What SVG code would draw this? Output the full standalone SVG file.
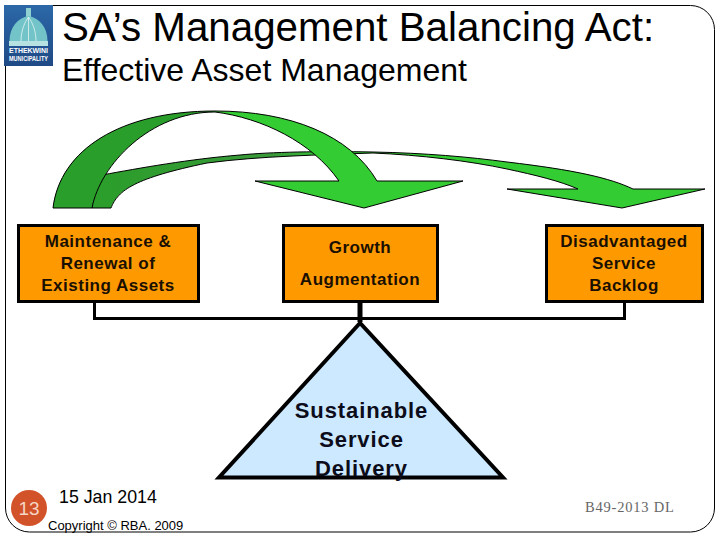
<svg xmlns="http://www.w3.org/2000/svg" width="720" height="540" viewBox="0 0 720 540">
<style>
text{font-family:"Liberation Sans",Arial,sans-serif;fill:#000}
.box{fill:#ff9900;stroke:#000;stroke-width:3}
.lbl{font-size:17px;font-weight:bold;text-anchor:middle;fill:#1a1000;letter-spacing:0.5px}
.sus{font-size:22px;font-weight:bold;text-anchor:middle;fill:#0c0c1a;letter-spacing:0.9px}
.arrow{stroke:#000;stroke-width:1;stroke-linejoin:miter}
.beam{fill:none;stroke:#000;stroke-width:3}
.logo-t{font-size:6.500px;font-weight:bold;fill:#fff}
</style>
<defs>
<linearGradient id="a1" gradientUnits="userSpaceOnUse" x1="53" y1="0" x2="463" y2="0"><stop offset="0.39" stop-color="#2a9e2a"/><stop offset="0.39" stop-color="#33cc33"/></linearGradient>
<linearGradient id="a2" gradientUnits="userSpaceOnUse" x1="92" y1="0" x2="705" y2="0"><stop offset="0" stop-color="#2a9e2a"/><stop offset="0.3" stop-color="#3a9a3a"/><stop offset="0.4" stop-color="#33cc33"/></linearGradient>
<linearGradient id="lg" x1="0" y1="0" x2="0" y2="1"><stop offset="0" stop-color="#2c68a8"/><stop offset="1" stop-color="#1f4a86"/></linearGradient>
</defs>
<rect id="frame" x="5.5" y="5.500" width="709" height="526.500" rx="24" fill="#fff" stroke="#000" stroke-width="1"/>
<g id="logo">
<rect x="4" y="5" width="49" height="61" fill="url(#lg)"/>
<rect x="26" y="8" width="5" height="9" fill="#8fd0d0"/>
<path d="M9.500 41C9.500 27 18 18 28.500 16C39 18 47.500 27 47.500 41Z" fill="#72c4c8"/>
<path d="M21 41C21 30 25 22 28.500 17M36 41C36 30 32 22 28.500 17M28.500 17V41" fill="none" stroke="#e4f4f4" stroke-width="0.800"/>
<rect x="9" y="41" width="39" height="5" fill="#b8e2e2"/>
<text class="logo-t" x="28.500" y="53" text-anchor="middle" textLength="39" lengthAdjust="spacingAndGlyphs">ETHEKWINI</text>
<text class="logo-t" x="28.500" y="61" text-anchor="middle" textLength="39" lengthAdjust="spacingAndGlyphs">MUNICIPALITY</text>
</g>
<g id="title">
<text x="62" y="41" style="font-size:40.300px">SA’s Management Balancing Act:</text>
<text x="62" y="81" style="font-size:32px">Effective Asset Management</text>
</g>
<g id="connectors">
<path class="arrow" fill="url(#a2)" d="M92 208H111C118 190 135 178 207 163C260 156 320 155 373 153C420 155 470 161 507 169C535 175 560 181 578 189H507L622 208L705 189H633C610 178 575 170 507 162C470 157 425 153 373 152C320 151 270 152 240 155C190 159 140 168 102 175C96 185 92 197 92 208Z"/>
<path class="arrow" fill="url(#a1)" d="M53 208H92C100 165 150 112 215 112C262 118 312 142 339 181H255L364 208L463 181H377C350 135 290 111 215 111C120 111 60 150 53 208Z"/>
<path class="beam" d="M94.500 303V318.500H624.500V303"/>
<path d="M360 303V322" fill="none" stroke="#000" stroke-width="5"/>
</g>
<g id="node-maintenance">
<rect class="box" x="18.500" y="225.500" width="180" height="76"/>
<text class="lbl" x="108" y="247">Maintenance &amp;</text>
<text class="lbl" x="108" y="269">Renewal of</text>
<text class="lbl" x="108" y="291">Existing Assets</text>
</g>
<g id="node-growth">
<rect class="box" x="283.500" y="225.500" width="154" height="76"/>
<text class="lbl" x="360" y="253">Growth</text>
<text class="lbl" x="360" y="285">Augmentation</text>
</g>
<g id="node-backlog">
<rect class="box" x="546.500" y="225.500" width="156" height="76"/>
<text class="lbl" x="624" y="247">Disadvantaged</text>
<text class="lbl" x="624" y="269">Service</text>
<text class="lbl" x="624" y="291">Backlog</text>
</g>
<g id="node-delivery">
<path d="M360 323L219 477.500H503Z" fill="#cce9ff" stroke="#000" stroke-width="4"/>
<text class="sus" x="361.500" y="418">Sustainable</text>
<text class="sus" x="361.500" y="447">Service</text>
<text class="sus" x="361.500" y="476">Delivery</text>
</g>
<g id="footer">
<circle cx="29" cy="508" r="18" fill="#d2522a"/>
<text x="29" y="514.500" text-anchor="middle" style="font-size:19px;fill:#f5d5c5">13</text>
<text x="59" y="503" style="font-size:17.800px">15 Jan 2014</text>
<text x="48" y="530" style="font-size:13px">Copyright © RBA. 2009</text>
<text x="585" y="512" style="font-family:'Liberation Serif',serif;font-size:14.500px;fill:#666;letter-spacing:0.8px">B49-2013 DL</text>
</g>
</svg>
